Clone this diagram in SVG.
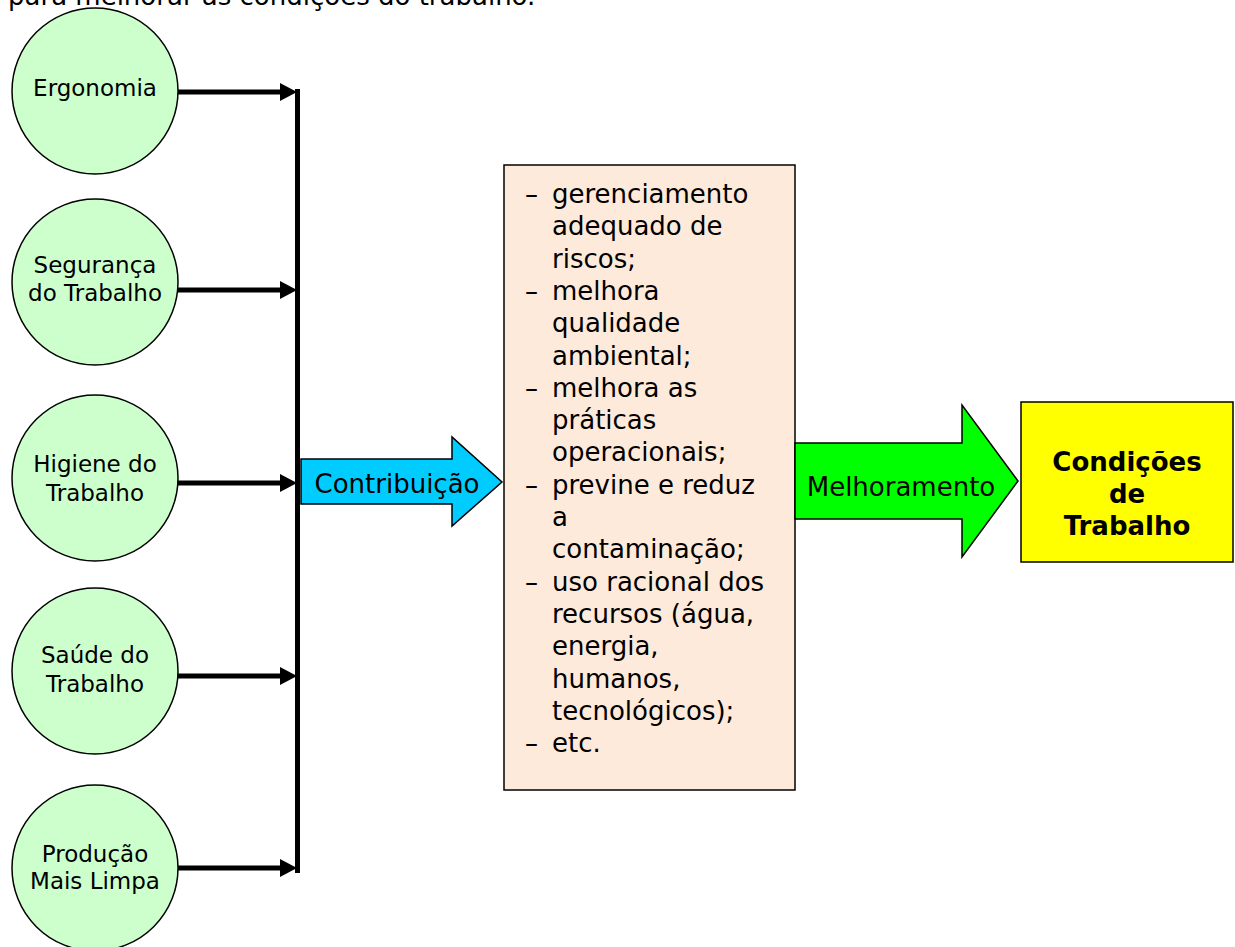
<svg xmlns="http://www.w3.org/2000/svg" width="1235" height="947" viewBox="0 0 1235 947">
<style>
text{font-family:"DejaVu Sans","Verdana",sans-serif;fill:#000}
.c{fill:#CCFFCC;stroke:#000;stroke-width:1.5}
.ct{font-size:23px;text-anchor:middle}
.ln{stroke:#000;stroke-width:5;fill:none}
.ah{fill:#000}
.bt{font-size:26px}
.mid{text-anchor:middle}
</style>
<rect width="1235" height="947" fill="#fff"/>
<text x="8" y="5" class="bt">para melhorar as condições do trabalho.</text>
<g id="connectors">
<line class="ln" x1="175" y1="92" x2="282" y2="92"/>
<polygon class="ah" points="280,83 297,92 280,101"/>
<line class="ln" x1="175" y1="290" x2="282" y2="290"/>
<polygon class="ah" points="280,281 297,290 280,299"/>
<line class="ln" x1="175" y1="483" x2="282" y2="483"/>
<polygon class="ah" points="280,474 297,483 280,492"/>
<line class="ln" x1="175" y1="676" x2="282" y2="676"/>
<polygon class="ah" points="280,667 297,676 280,685"/>
<line class="ln" x1="175" y1="868" x2="282" y2="868"/>
<polygon class="ah" points="280,859 297,868 280,877"/>
<line class="ln" x1="297.5" y1="89" x2="297.5" y2="873"/>
</g>
<g id="ergonomia">
<circle class="c" cx="95" cy="91" r="83"/>
<text class="ct" x="95" y="96">Ergonomia</text>
</g>
<g id="seguranca">
<circle class="c" cx="95" cy="282" r="83"/>
<text class="ct" x="95" y="273">Segurança</text>
<text class="ct" x="95" y="301">do Trabalho</text>
</g>
<g id="higiene">
<circle class="c" cx="95" cy="478" r="83"/>
<text class="ct" x="95" y="472">Higiene do</text>
<text class="ct" x="95" y="501">Trabalho</text>
</g>
<g id="saude">
<circle class="c" cx="95" cy="671" r="83"/>
<text class="ct" x="95" y="663">Saúde do</text>
<text class="ct" x="95" y="692">Trabalho</text>
</g>
<g id="producao">
<circle class="c" cx="95" cy="868" r="83"/>
<text class="ct" x="95" y="862">Produção</text>
<text class="ct" x="95" y="889">Mais Limpa</text>
</g>
<g id="contribuicao">
<polygon points="301,459 452,459 452,437 502,482 452,526 452,504 301,504" fill="#00CCFF" stroke="#000" stroke-width="1.5"/>
<text class="bt mid" x="397" y="493">Contribuição</text>
</g>
<g id="lista">
<rect x="504" y="165" width="291" height="625" fill="#FDEADA" stroke="#000" stroke-width="1.5"/>
<g class="bt">
<text x="525" y="203">–</text><text x="552" y="203">gerenciamento</text>
<text x="552" y="235.3">adequado de</text>
<text x="552" y="267.6">riscos;</text>
<text x="525" y="299.9">–</text><text x="552" y="299.9">melhora</text>
<text x="552" y="332.2">qualidade</text>
<text x="552" y="364.5">ambiental;</text>
<text x="525" y="396.8">–</text><text x="552" y="396.8">melhora as</text>
<text x="552" y="429.1">práticas</text>
<text x="552" y="461.4">operacionais;</text>
<text x="525" y="493.7">–</text><text x="552" y="493.7">previne e reduz</text>
<text x="552" y="526">a</text>
<text x="552" y="558.3">contaminação;</text>
<text x="525" y="590.6">–</text><text x="552" y="590.6">uso racional dos</text>
<text x="552" y="622.9">recursos (água,</text>
<text x="552" y="655.2">energia,</text>
<text x="552" y="687.5">humanos,</text>
<text x="552" y="719.8">tecnológicos);</text>
<text x="525" y="752.1">–</text><text x="552" y="752.1">etc.</text>
</g>
</g>
<g id="melhoramento">
<polygon points="795,443 962,443 962,405 1018,481 962,557 962,519 795,519" fill="#00FF00" stroke="#000" stroke-width="1.5"/>
<text class="bt mid" x="901" y="496">Melhoramento</text>
</g>
<g id="condicoes">
<rect x="1021" y="402" width="212" height="160" fill="#FFFF00" stroke="#000" stroke-width="1.5"/>
<text class="bt mid" x="1127" y="471" font-weight="bold">Condições</text>
<text class="bt mid" x="1127" y="503" font-weight="bold">de</text>
<text class="bt mid" x="1127" y="535" font-weight="bold">Trabalho</text>
</g>
</svg>
